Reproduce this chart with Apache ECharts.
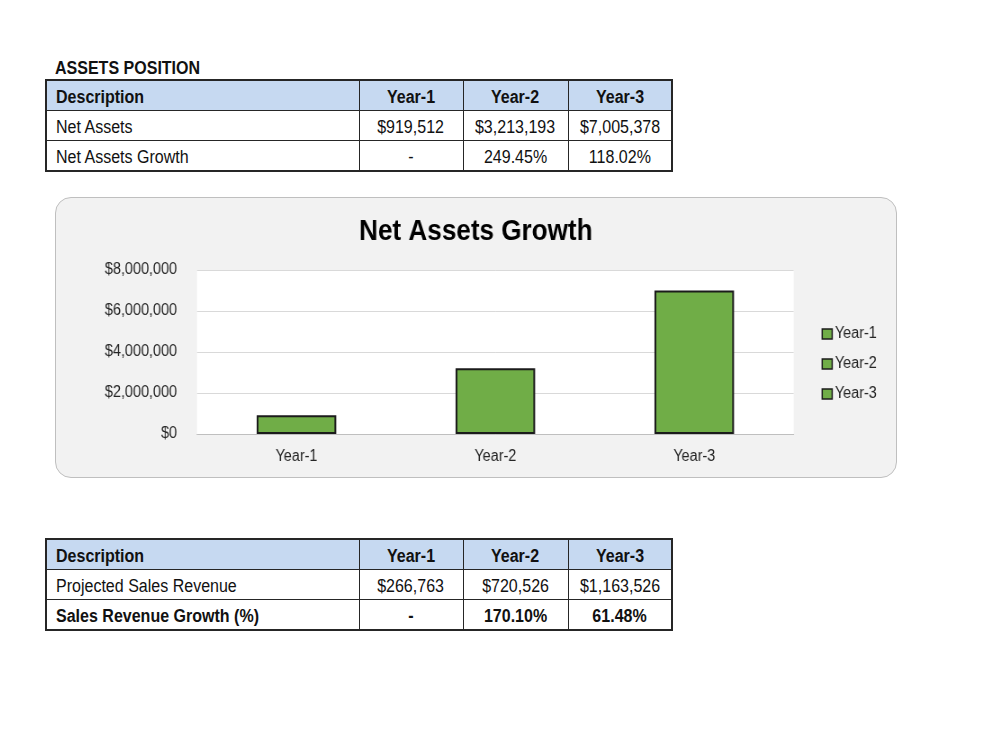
<!DOCTYPE html>
<html>
<head>
<meta charset="utf-8">
<script src="https://cdn.jsdelivr.net/npm/echarts@6/dist/echarts.min.js"></script>
<style>
  body { margin: 0; background: #fff; width: 1000px; height: 750px; position: relative; overflow: hidden;
    font-family: "Liberation Sans", Arial, sans-serif; color: #111; }
  .s { display: inline-block; transform: scaleX(0.89); transform-origin: left center; }
  td .s { position: relative; top: 2px; }
  .caption { position: absolute; left: 55px; top: 58px; font-size: 18px; font-weight: bold; }
  table { position: absolute; left: 45px; border-collapse: collapse; border: 2px solid #262626; font-size: 18px; }
  td { border: 1px solid #262626; height: 29px; padding: 0 9px; line-height: 29px; white-space: nowrap; overflow: hidden; }
  td.num { text-align: center; padding: 0; }
  td.num .s { transform-origin: center center; }
  tr.head td { background: #c6d9f1; font-weight: bold; }
  tr.bold td { font-weight: bold; }
  #box { position: absolute; left: 55px; top: 197px; width: 840px; height: 279px;
    background: #f2f2f2; border: 1px solid #bfbfbf; border-radius: 16px; overflow: hidden; }
  #chart { position: absolute; left: 0; top: 0; width: 933px; height: 279px;
    transform: scaleX(0.9); transform-origin: left top; }
</style>
</head>
<body>
<div class="caption"><span class="s">ASSETS POSITION</span></div>
<table id="t1" style="top:79px"></table>
<div id="box"><div id="chart"></div></div>
<table id="t2" style="top:538px"></table>
<script>
const years = ["Year-1", "Year-2", "Year-3"];
const netAssets = [919512, 3213193, 7005378];
const netAssetsGrowth = ["-", "249.45%", "118.02%"];
const salesRevenue = [266763, 720526, 1163526];
const salesGrowth = ["-", "170.10%", "61.48%"];

const money = (v) => "$" + v.toLocaleString("en-US");
// the chart is drawn 0.9 wide, so horizontal sizes are divided by sx
const sx = 0.9;

function buildTable(el, rows) {
  let html = '<colgroup><col style="width:313px"><col style="width:104px"><col style="width:105px"><col style="width:104px"></colgroup>';
  rows.forEach((r) => {
    html += '<tr class="' + (r.cls || "") + '"><td><span class="s">' + r.label + "</span></td>";
    r.cells.forEach((c) => {
      html += '<td class="num"><span class="s">' + c + "</span></td>";
    });
    html += "</tr>";
  });
  el.innerHTML = html;
}

buildTable(document.getElementById("t1"), [
  { cls: "head", label: "Description", cells: years },
  { label: "Net Assets", cells: netAssets.map(money) },
  { label: "Net Assets Growth", cells: netAssetsGrowth },
]);
buildTable(document.getElementById("t2"), [
  { cls: "head", label: "Description", cells: years },
  { label: "Projected Sales Revenue", cells: salesRevenue.map(money) },
  { cls: "bold", label: "Sales Revenue Growth (%)", cells: salesGrowth },
]);

let myChart = echarts.init(document.getElementById("chart"));
let option = {
  backgroundColor: "transparent",
  animation: false,
  textStyle: { fontFamily: "Liberation Sans" },
  title: {
    text: "Net Assets Growth",
    left: "center",
    top: 14,
    textStyle: { fontSize: 29, fontWeight: "bold", color: "#000" },
  },
  grid: {
    show: true,
    backgroundColor: "#fff",
    borderWidth: 0,
    left: 141 / sx,
    right: 102 / sx,
    top: 72,
    bottom: 43,
    containLabel: false,
  },
  legend: {
    orient: "vertical",
    left: 761 / sx,
    top: 123,
    itemWidth: 10 / sx,
    itemHeight: 10,
    itemGap: 14,
    icon: "rect",
    itemStyle: { borderColor: "#1b1b1b", borderWidth: 1.5 },
    textStyle: { fontSize: 16, color: "#262626", padding: [0, 0, 0, -2] },
    data: years,
  },
  xAxis: {
    type: "category",
    data: years,
    axisTick: { show: false },
    axisLine: { lineStyle: { color: "#bfbfbf", width: 1 } },
    axisLabel: { fontSize: 16, color: "#262626", margin: 15 },
  },
  yAxis: {
    type: "value",
    min: 0,
    max: 8000000,
    interval: 2000000,
    axisLine: { show: false },
    axisTick: { show: false },
    splitLine: { lineStyle: { color: "#d9d9d9", width: 1 } },
    axisLabel: {
      fontSize: 16,
      color: "#262626",
      margin: 20 / sx,
      formatter: (v) => money(v),
    },
  },
  series: years.map((name, i) => ({
    name: name,
    type: "bar",
    stack: "assets",
    barWidth: "40%",
    itemStyle: { color: "#70ad47", borderColor: "#1b1b1b", borderWidth: 2 },
    data: netAssets.map((v, j) => (j === i ? v : null)),
  })),
};
option && myChart.setOption(option);
</script>
</body>
</html>
